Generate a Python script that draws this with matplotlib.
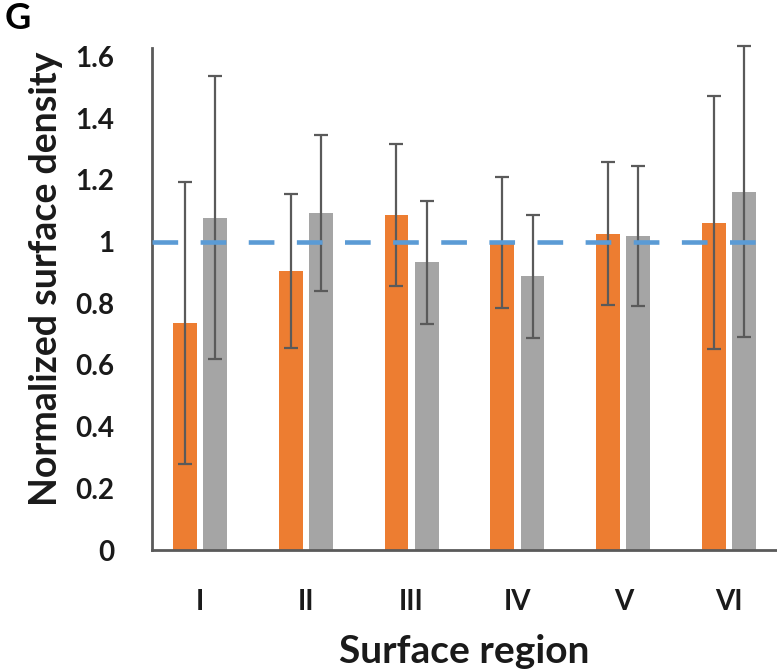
import numpy as np
import matplotlib.pyplot as plt

plt.rcParams['font.family'] = ['Lato', 'DejaVu Sans']

# data
regions = ['I', 'II', 'III', 'IV', 'V', 'VI']
orange_vals = [0.737, 0.905, 1.086, 0.997, 1.025, 1.061]
orange_err = [0.457, 0.250, 0.230, 0.212, 0.232, 0.410]
gray_vals = [1.078, 1.092, 0.933, 0.887, 1.018, 1.162]
gray_err = [0.458, 0.253, 0.200, 0.200, 0.226, 0.471]
ref_level = 1.0

fig = plt.figure(figsize=(7.77, 6.71), dpi=100)
ax = fig.add_axes([0.1956, 0.1803, 0.8044, 0.7482])

x = np.arange(len(regions))
w = 0.226
off = 0.142
err_kw = dict(ecolor='#5a5a5a', elinewidth=1.6, capsize=4.8, capthick=1.6)

ax.bar(x - off, orange_vals, w, color='#ED7D31', yerr=orange_err,
       error_kw=err_kw, zorder=2)
ax.bar(x + off, gray_vals, w, color='#A5A5A5', yerr=gray_err,
       error_kw=err_kw, zorder=2)
for c in ax.containers:
    if hasattr(c, 'lines'):
        for part in c.lines:
            if isinstance(part, tuple):
                for p in part:
                    p.set_clip_on(False)
            elif part is not None:
                part.set_clip_on(False)

ax.axhline(ref_level, color='#5B9BD5', lw=3.3, dashes=(5.6, 4.9), zorder=3)

ax.set_xlim(-0.45, 5.45)
ax.set_ylim(0, 1.628)
ax.set_xticks(x)
ax.set_xticklabels(regions)
ax.set_yticks(np.arange(0, 1.61, 0.2))
ax.set_yticklabels(['0', '0.2', '0.4', '0.6', '0.8', '1', '1.2', '1.4', '1.6'])
ax.tick_params(axis='both', length=0, labelsize=20, colors='#1a1a1a')
ax.tick_params(axis='y', pad=27)
ax.tick_params(axis='x', pad=28)
for lab in ax.get_xticklabels() + ax.get_yticklabels():
    lab.set_fontweight('bold')

for s in ['top', 'right']:
    ax.spines[s].set_visible(False)
for s in ['left', 'bottom']:
    ax.spines[s].set_color('#5a5a5a')
    ax.spines[s].set_linewidth(2)

ax.set_ylabel('Normalized surface density', fontsize=27, fontweight='bold',
              color='#1a1a1a')
ax.yaxis.set_label_coords(-0.142, 0.54)
ax.set_xlabel('Surface region', fontsize=28, fontweight='bold', color='#1a1a1a')
ax.xaxis.set_label_coords(0.5, -0.168)

fig.text(0.006, 0.997, 'G', fontsize=26, fontweight='bold', va='top', ha='left')

fig.savefig('out.png', dpi=100)
